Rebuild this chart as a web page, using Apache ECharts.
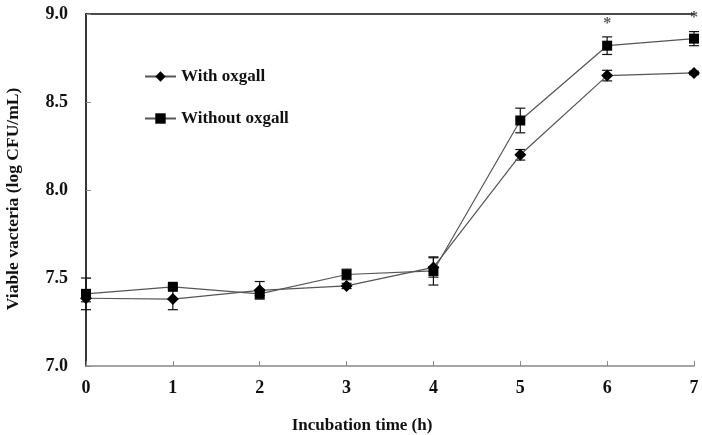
<!DOCTYPE html>
<html>
<head>
<meta charset="utf-8">
<script src="https://cdn.jsdelivr.net/npm/echarts@6/dist/echarts.min.js"></script>
<style>
  html, body { margin: 0; padding: 0; background: #fff; }
  #chart { width: 702px; height: 435px; }
</style>
</head>
<body>
<div id="chart"></div>
<script>
// hours
const hours = [0, 1, 2, 3, 4, 5, 6, 7];
// viable bacteria, log CFU/mL
const withOxgall = [7.385, 7.38, 7.43, 7.455, 7.56, 8.20, 8.65, 8.665];
const withOxgallErr = [0.02, 0.06, 0.05, 0.015, 0.055, 0.03, 0.03, 0.01];
const withoutOxgall = [7.41, 7.45, 7.41, 7.52, 7.54, 8.395, 8.82, 8.86];
const withoutOxgallErr = [0.09, 0.01, 0.01, 0.03, 0.08, 0.07, 0.05, 0.04];
// significance marks
const starHours = [6, 7];
const starValues = [8.965, 9.0];
const yTicks = ['7.0', '7.5', '8.0', '8.5', '9.0'];

const font = '"Liberation Serif", "Times New Roman", serif';
const chart = echarts.init(document.getElementById('chart'));

function pairs(xs, ys) {
  return xs.map((x, i) => [x, ys[i]]);
}
function errData(ys, errs) {
  return hours.map((x, i) => [x, ys[i] - errs[i], ys[i] + errs[i]]);
}

function errorBars(params, api) {
  const x = api.value(0);
  const lo = api.coord([x, api.value(1)]);
  const hi = api.coord([x, api.value(2)]);
  const w = 5;
  const style = { stroke: '#111', lineWidth: 1.2 };
  return {
    type: 'group',
    children: [
      { type: 'line', shape: { x1: lo[0], y1: lo[1], x2: hi[0], y2: hi[1] }, style },
      { type: 'line', shape: { x1: lo[0] - w, y1: lo[1], x2: lo[0] + w, y2: lo[1] }, style },
      { type: 'line', shape: { x1: hi[0] - w, y1: hi[1], x2: hi[0] + w, y2: hi[1] }, style }
    ]
  };
}

chart.setOption({
  animation: false,
  backgroundColor: '#fff',
  grid: { left: 86, right: 8, top: 14, bottom: 69, outerBoundsMode: 'none' },
  legend: {
    orient: 'vertical',
    left: 139,
    top: 63,
    itemGap: 25,
    itemWidth: 31,
    itemHeight: 13,
    data: ['With oxgall', 'Without oxgall'],
    textStyle: { fontFamily: font, fontWeight: 'bold', fontSize: 17, color: '#111' }
  },
  graphic: [
    {
      type: 'text', x: 13, y: 199, rotation: Math.PI / 2,
      style: {
        text: 'Viable vacteria (log CFU/mL)', font: 'bold 17.5px ' + font,
        fill: '#111', align: 'center', verticalAlign: 'middle'
      }
    },
    {
      type: 'text', x: 362, y: 426,
      style: {
        text: 'Incubation time (h)', font: 'bold 17px ' + font,
        fill: '#111', align: 'center', verticalAlign: 'middle'
      }
    }
  ],
  xAxis: [
    {
      type: 'value', min: 0, max: 7, interval: 1,
      axisLine: { lineStyle: { color: '#888', width: 1.5 } },
      axisTick: { inside: true, length: 5, lineStyle: { color: '#888' } },
      axisLabel: { margin: 13, fontFamily: font, fontWeight: 'bold', fontSize: 18, color: '#111' },
      splitLine: { show: false }
    },
    {
      type: 'value', min: 0, max: 7, position: 'top',
      axisLine: { show: true, lineStyle: { color: '#111', width: 1.5 } },
      axisTick: { show: false }, axisLabel: { show: false }, splitLine: { show: false }
    }
  ],
  yAxis: [
    {
      type: 'value', min: 7, max: 9, interval: 0.5,
      axisLine: { show: true, lineStyle: { color: '#888', width: 1.5 } },
      axisTick: { show: true, inside: true, length: 5, lineStyle: { color: '#888' } },
      axisLabel: {
        margin: 18, fontFamily: font, fontWeight: 'bold', fontSize: 18, color: '#111',
        formatter: v => yTicks[Math.round((v - 7) / 0.5)]
      },
      splitLine: { show: false }
    },
    {
      type: 'value', min: 7, max: 9, position: 'right',
      axisLine: { show: true, lineStyle: { color: '#111', width: 1.5 } },
      axisTick: { show: false }, axisLabel: { show: false }, splitLine: { show: false }
    }
  ],
  series: [
    {
      name: 'With oxgall', type: 'line', data: pairs(hours, withOxgall),
      symbol: 'diamond', symbolSize: 12,
      lineStyle: { color: '#555', width: 1.2 },
      itemStyle: { color: '#000' }, z: 3
    },
    {
      name: 'Without oxgall', type: 'line', data: pairs(hours, withoutOxgall),
      symbol: 'rect', symbolSize: 10,
      lineStyle: { color: '#555', width: 1.2 },
      itemStyle: { color: '#000' }, z: 3
    },
    { type: 'custom', renderItem: errorBars, data: errData(withOxgall, withOxgallErr), z: 2 },
    { type: 'custom', renderItem: errorBars, data: errData(withoutOxgall, withoutOxgallErr), z: 2 },
    {
      type: 'scatter', data: pairs(starHours, starValues), symbolSize: 0,
      label: {
        show: true, formatter: '*', position: 'inside', offset: [0, 4],
        fontFamily: font, fontWeight: 'bold', fontSize: 16, color: '#333'
      },
      z: 4
    }
  ]
});
</script>
</body>
</html>
